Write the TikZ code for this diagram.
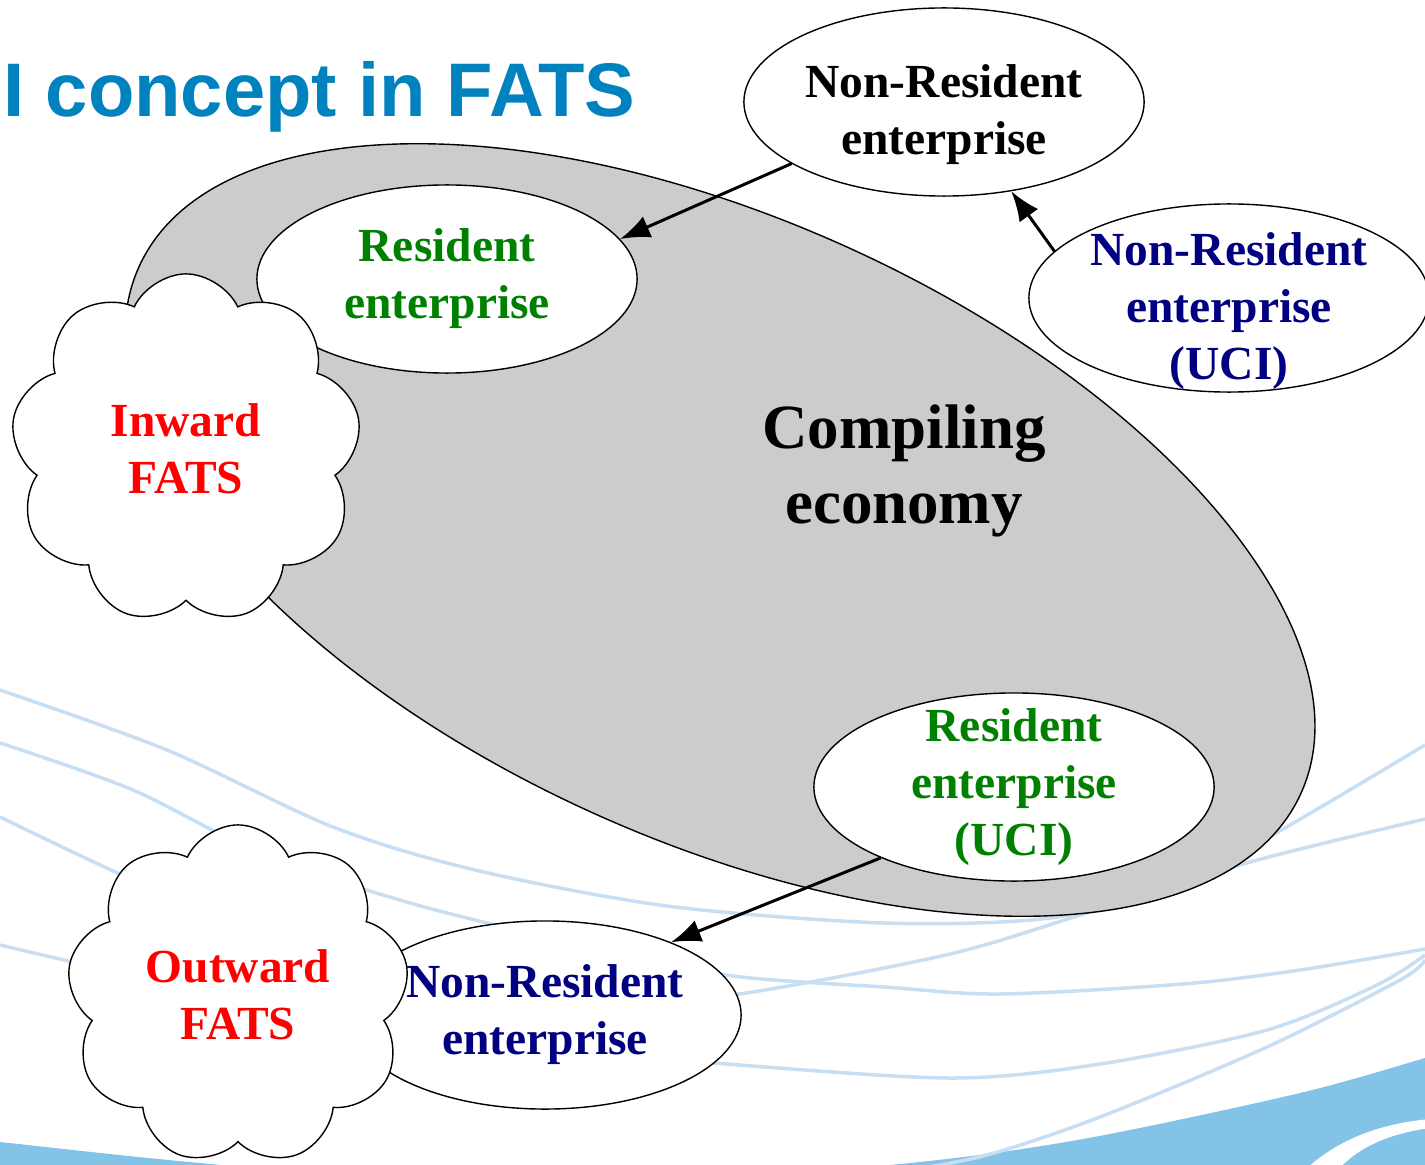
\documentclass[tikz,border=0pt]{standalone}
\usepackage{fontspec}
\setmainfont{Liberation Serif}
\newfontfamily\titlefont{Liberation Sans}
\usetikzlibrary{arrows.meta, shapes.geometric, shapes.symbols}

\definecolor{titleblue}{RGB}{0,130,190}
\definecolor{resgreen}{RGB}{0,128,0}
\definecolor{nrblue}{RGB}{0,0,128}
\definecolor{econgrey}{RGB}{204,204,204}
\definecolor{wavelight}{RGB}{200,223,243}
\definecolor{waveblue}{RGB}{131,195,232}

\begin{document}
\begin{tikzpicture}[x=0.01cm, y=-0.01cm]
			\tikzset {>={Latex[length=8.5pt,width=6.5pt]},
				firm/.style={draw, ellipse, fill=white, line width=0.4pt, minimum width=4cm, minimum height=1.88cm, inner sep=0pt},
				firmtext/.style={align=center, font=\fontsize{13.5}{16.2}\selectfont\bfseries},
				fats/.style={draw, cloud, cloud puffs=9, cloud puff arc=130, aspect=1, fill=white, line width=0.4pt, inner sep=0pt, align=center, text=red, font=\fontsize{13.5}{16.2}\selectfont\bfseries},
				link/.style={->, line width=0.85pt},
				swirl/.style={wavelight, line width=1pt} }
			\useasboundingbox (0,0) rectangle (1425,1164);

			% slide background
			\begin{scope}
				\clip (0,0) rectangle (1425,1164);
				\fill[waveblue] plot[smooth] coordinates {(-60,1136) (0,1142) (200,1163) (550,1192) (900,1164) (1083,1139) (1300,1093) (1425,1058) (1490,1038)} -- (1490,1220) -- (-60,1220) -- cycle;
				\fill[white] (1305,1170) .. controls (1335,1142) and (1375,1124) .. (1430,1119) -- (1430,1128) .. controls (1385,1134) and (1355,1150) .. (1338,1170) -- cycle;
				\draw[swirl] plot[smooth] coordinates {(0,690) (167,750) (333,827) (475,870) (667,906) (884,923) (1050,918) (1180,885) (1290,825) (1425,745)};
				\draw[swirl] plot[smooth] coordinates {(0,743) (133,790) (267,857) (400,900) (487,923) (600,950) (733,976) (884,987) (1000,994) (1183,984) (1300,970) (1425,949)};
				\draw[swirl] plot[smooth] coordinates {(0,817) (133,880) (300,950) (500,995) (620,1003) (746,993) (950,954) (1090,912) (1250,862) (1425,819)};
				\draw[swirl] plot[smooth] coordinates {(0,945) (100,968) (300,1010) (500,1045) (713,1063) (950,1078) (1100,1064) (1267,1030) (1377,985) (1425,955)};
				\draw[swirl] plot[smooth] coordinates {(880,1175) (983,1156) (1100,1117) (1267,1047) (1400,980) (1425,960)};
			\end{scope}

			\node[anchor=base west, inner sep=0pt, text=titleblue, font=\titlefont\fontsize{21.6}{26}\selectfont\bfseries] (title) at (3,117) {I concept in FATS};

			\node[draw, ellipse, fill=econgrey, line width=0.4pt, minimum width=12.75cm, minimum height=6.2cm, inner sep=0pt, rotate=-24.4] (economy) at (720,530) {};
			\node[align=center, font=\fontsize{17.9}{21.3}\selectfont\bfseries] (econtext) at (904,471) {Compiling\\economy};

			\node[firm, minimum width=3.8cm, label={[firmtext, text=resgreen]center:Resident\\enterprise}] (restop) at (447,279) {};
			\node[firm, label={[firmtext, yshift=-0.13cm]center:Non-Resident\\enterprise}] (nrtop) at (944,102) {};
			\node[firm, label={[firmtext, text=nrblue, yshift=-0.13cm]center:Non-Resident\\enterprise\\(UCI)}] (nruci) at (1229,298) {};
			\node[firm, label={[firmtext, text=resgreen]center:Resident\\enterprise\\(UCI)}] (resuci) at (1014,787) {};
			\node[firm, minimum width=3.92cm, label={[firmtext, text=nrblue]center:Non-Resident\\enterprise}] (nrbot) at (545,1015) {};

			\node[fats, minimum width=3.5cm, minimum height=3.5cm, shape border rotate=10] (inward) at (186,449) {Inward\\FATS};
			\node[fats, minimum width=3.42cm, minimum height=3.4cm, shape border rotate=10] (outward) at (238,995) {Outward\\FATS};

			\draw[link] (nrtop.202.9) -- (restop.13.9);
			\draw[link] (nruci.165.4) -- (nrtop.-53.2);
			\draw[link] (resuci.208.5) -- (nrbot.30.6);
		\end{tikzpicture}
\end{document}
